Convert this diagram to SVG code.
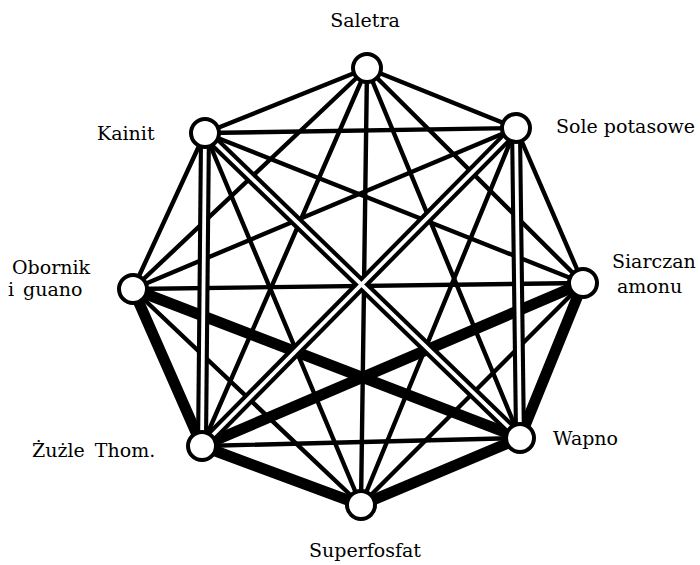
<svg xmlns="http://www.w3.org/2000/svg" width="700" height="565" viewBox="0 0 700 565">
<style>
.thin{stroke:#000;stroke-width:4.4;fill:none;stroke-linecap:round}
.thick{stroke:#000;stroke-width:11;fill:none;stroke-linecap:round}
.dblo{stroke:#000;stroke-width:12;fill:none}
.dbli{stroke:#fff;stroke-width:3.8;fill:none}
.node{fill:#fff;stroke:#000;stroke-width:4}
.lbl{font-family:"DejaVu Serif",serif;font-size:19px;fill:#000}
</style>
<rect width="700" height="565" fill="#fff"/>
<g id="connectors">
<g id="thin-edges">
<line class="thin" x1="367" y1="68" x2="516" y2="128"/>
<line class="thin" x1="516" y1="128" x2="583" y2="283"/>
<line class="thin" x1="133" y1="289" x2="205" y2="133"/>
<line class="thin" x1="205" y1="133" x2="367" y2="68"/>
<line class="thin" x1="367" y1="68" x2="583" y2="283"/>
<line class="thin" x1="583" y1="283" x2="361" y2="505"/>
<line class="thin" x1="520" y1="438" x2="202" y2="446"/>
<line class="thin" x1="361" y1="505" x2="133" y2="289"/>
<line class="thin" x1="133" y1="289" x2="367" y2="68"/>
<line class="thin" x1="205" y1="133" x2="516" y2="128"/>
<line class="thin" x1="367" y1="68" x2="520" y2="438"/>
<line class="thin" x1="516" y1="128" x2="361" y2="505"/>
<line class="thin" x1="361" y1="505" x2="205" y2="133"/>
<line class="thin" x1="202" y1="446" x2="367" y2="68"/>
<line class="thin" x1="133" y1="289" x2="516" y2="128"/>
<line class="thin" x1="205" y1="133" x2="583" y2="283"/>
<line class="thin" x1="367" y1="68" x2="361" y2="505"/>
<line class="thin" x1="583" y1="283" x2="133" y2="289"/>
</g>
<g id="thick-edges">
<line class="thick" x1="583" y1="283" x2="520" y2="438"/>
<line class="thick" x1="520" y1="438" x2="361" y2="505"/>
<line class="thick" x1="361" y1="505" x2="202" y2="446"/>
<line class="thick" x1="202" y1="446" x2="133" y2="289"/>
<line class="thick" x1="583" y1="283" x2="202" y2="446"/>
<line class="thick" x1="520" y1="438" x2="133" y2="289"/>
</g>
<g id="double-edges">
<line class="dblo" x1="516" y1="128" x2="520" y2="438"/>
<line class="dblo" x1="202" y1="446" x2="205" y2="133"/>
<line class="dblo" x1="516" y1="128" x2="202" y2="446"/>
<line class="dblo" x1="520" y1="438" x2="205" y2="133"/>
<line class="dbli" x1="516" y1="128" x2="520" y2="438"/>
<line class="dbli" x1="202" y1="446" x2="205" y2="133"/>
<line class="dbli" x1="516" y1="128" x2="202" y2="446"/>
<line class="dbli" x1="520" y1="438" x2="205" y2="133"/>
</g>
</g>
<g id="saletra"><circle class="node" cx="367" cy="68" r="14"/><text class="lbl" x="365" y="27" text-anchor="middle">Saletra</text></g>
<g id="sole-potasowe"><circle class="node" cx="516" cy="128" r="14"/><text class="lbl" x="556" y="133">Sole potasowe</text></g>
<g id="siarczan-amonu"><circle class="node" cx="583" cy="283" r="14"/><text class="lbl" x="612" y="268">Siarczan</text><text class="lbl" x="617" y="293">amonu</text></g>
<g id="wapno"><circle class="node" cx="520" cy="438" r="14"/><text class="lbl" x="553" y="445">Wapno</text></g>
<g id="superfosfat"><circle class="node" cx="361" cy="505" r="14"/><text class="lbl" x="365" y="557" text-anchor="middle">Superfosfat</text></g>
<g id="zuzle-thom"><circle class="node" cx="202" cy="446" r="14"/><text class="lbl" x="32" y="457" word-spacing="4">Żużle Thom.</text></g>
<g id="obornik-guano"><circle class="node" cx="133" cy="289" r="14"/><text class="lbl" x="12" y="274">Obornik</text><text class="lbl" x="8" y="296" word-spacing="3">i guano</text></g>
<g id="kainit"><circle class="node" cx="205" cy="133" r="14"/><text class="lbl" x="97" y="140">Kainit</text></g>
</svg>
